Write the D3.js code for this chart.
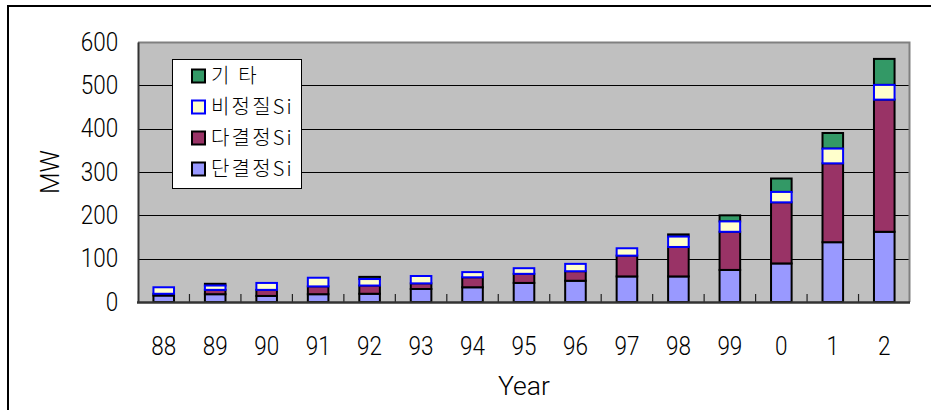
<!DOCTYPE html>
<html>
<head>
<meta charset="utf-8">
<script src="https://cdn.jsdelivr.net/npm/d3@7"></script>
<style>
  html, body { margin: 0; padding: 0; background: #fff; }
  svg { display: block; }
  .num { font-family: Roboto, "Liberation Sans", Arial, sans-serif; font-weight: 300; fill: #000; }
  .kr { font-family: "Noto Sans CJK KR", "Noto Sans", sans-serif; font-weight: 300; fill: #000; }
</style>
</head>
<body>
<svg id="chart" width="931" height="410"></svg>
<script>
// PV cell production by technology (MW)
const years  = ["88","89","90","91","92","93","94","95","96","97","98","99","0","1","2"];
const mono   = [15, 18, 14, 18, 19, 30, 34, 44, 49, 59, 59, 74, 89, 138, 162];   // 단결정Si
const poly   = [ 4, 10, 14, 18, 19, 13, 23, 21, 22, 48, 68, 88, 141, 182, 305]; // 다결정Si
const amorph = [15, 10, 16, 20, 15, 17, 12, 13, 17, 17, 24, 24, 24, 34, 34];    // 비정질Si
const other  = [ 0,  4,  0,  0,  5,  0,  0,  0,  0,  0,  5, 14, 31, 36, 60];    // 기 타
const yTicks = [0, 100, 200, 300, 400, 500, 600];

const seriesNames = ["단결정Si", "다결정Si", "비정질Si", "기 타"];
const seriesKeys  = ["mono", "poly", "amorph", "other"];
const fills   = { mono: "#9999FF", poly: "#993366", amorph: "#FFFFCC", other: "#339966" };
const strokes = { mono: "#000", poly: "#000", amorph: "#0000FF", other: "#000" };

const rows = years.map((y, i) => ({
  year: y, mono: mono[i], poly: poly[i], amorph: amorph[i], other: other[i]
}));

const svg = d3.select("#chart");
const plot = { left: 138, right: 910, top: 42, bottom: 302 };
const sx = 0.9; // narrow the digit glyphs a little

// outer frame
svg.append("rect")
  .attr("x", 8).attr("y", 6).attr("width", 940).attr("height", 420)
  .attr("fill", "#fff").attr("stroke", "#000").attr("stroke-width", 2);

const x = d3.scaleBand().domain(years)
  .range([plot.left, plot.right])
  .paddingInner(0.6).paddingOuter(0.3);
const y = d3.scaleLinear().domain([0, 600]).range([plot.bottom, plot.top]);

// plot background
svg.append("rect")
  .attr("x", plot.left).attr("y", plot.top)
  .attr("width", plot.right - plot.left).attr("height", plot.bottom - plot.top)
  .attr("fill", "#C0C0C0");

// gridlines
svg.append("g").selectAll("line")
  .data(yTicks.filter(t => t > 0 && t < 600))
  .join("line")
  .attr("x1", plot.left).attr("x2", plot.right)
  .attr("y1", d => Math.round(y(d)) + 0.5).attr("y2", d => Math.round(y(d)) + 0.5)
  .attr("stroke", "#000").attr("stroke-width", 1);

// plot border: top and right in gray
svg.append("path")
  .attr("d", `M${plot.left},${plot.top + 0.5}H${plot.right - 0.5}V${plot.bottom}`)
  .attr("fill", "none").attr("stroke", "#808080").attr("stroke-width", 2);

// stacked bars
const stack = d3.stack().keys(seriesKeys)(rows);
const layers = svg.append("g");
const drawOrder = ["mono", "poly", "other", "amorph"];
drawOrder.forEach(k => {
  const layer = stack.find(s => s.key === k);
  layers.append("g").selectAll("rect")
    .data(layer.filter(d => d[1] - d[0] > 0))
    .join("rect")
    .attr("x", d => x(d.data.year))
    .attr("width", x.bandwidth())
    .attr("y", d => y(d[1]))
    .attr("height", d => y(d[0]) - y(d[1]))
    .attr("fill", fills[k])
    .attr("stroke", strokes[k])
    .attr("stroke-width", 2);
});

// y axis
const yAxis = svg.append("g")
  .attr("transform", `translate(${plot.left},0)`)
  .call(d3.axisLeft(y).tickValues(yTicks).tickSize(0).tickPadding(22));
yAxis.select(".domain").attr("stroke", "#333").attr("stroke-width", 2);
yAxis.selectAll("text")
  .attr("class", "num").attr("font-size", 25).attr("fill", "#000")
  .attr("transform", `scale(${sx},1)`);

// x axis: category boundary ticks pointing into the plot
const step = x.step();
const xAxis = svg.append("g");
xAxis.selectAll("line.tk")
  .data(d3.range(1, years.length))
  .join("line")
  .attr("x1", i => plot.left + i * step).attr("x2", i => plot.left + i * step)
  .attr("y1", plot.bottom).attr("y2", plot.bottom - 8)
  .attr("stroke", "#222").attr("stroke-width", 1.2);
xAxis.append("line")
  .attr("x1", plot.left - 1).attr("x2", plot.right)
  .attr("y1", plot.bottom + 0.5).attr("y2", plot.bottom + 0.5)
  .attr("stroke", "#333").attr("stroke-width", 2.5);
xAxis.selectAll("text")
  .data(years)
  .join("text")
  .attr("class", "num")
  .attr("transform", d => `translate(${x(d) + x.bandwidth() / 2},355) scale(${sx},1)`)
  .attr("text-anchor", "middle")
  .attr("font-size", 25)
  .text(d => d);

// axis titles
svg.append("text").attr("class", "num")
  .attr("transform", "translate(524,395) scale(1.02,1)")
  .attr("text-anchor", "middle").attr("font-size", 26)
  .text("Year");
svg.append("text").attr("class", "num")
  .attr("transform", "translate(59,172) rotate(-90)")
  .attr("text-anchor", "middle").attr("font-size", 25)
  .text("MW");

// legend
const lg = svg.append("g");
lg.append("rect")
  .attr("x", 172.5).attr("y", 59.5).attr("width", 129).attr("height", 129)
  .attr("fill", "#fff").attr("stroke", "#000").attr("stroke-width", 1);
const legendOrder = ["other", "amorph", "poly", "mono"];
legendOrder.forEach((k, i) => {
  const cy = 76 + i * 31;
  lg.append("rect")
    .attr("x", 192).attr("y", cy - 6.5).attr("width", 13).attr("height", 13)
    .attr("fill", fills[k]).attr("stroke", strokes[k]).attr("stroke-width", 2);
  lg.append("text").attr("class", "kr")
    .attr("x", 211).attr("y", cy + 7)
    .attr("font-size", 20)
    .attr("letter-spacing", 2.2)
    .text(seriesNames[seriesKeys.indexOf(k)]);
});
</script>
</body>
</html>
